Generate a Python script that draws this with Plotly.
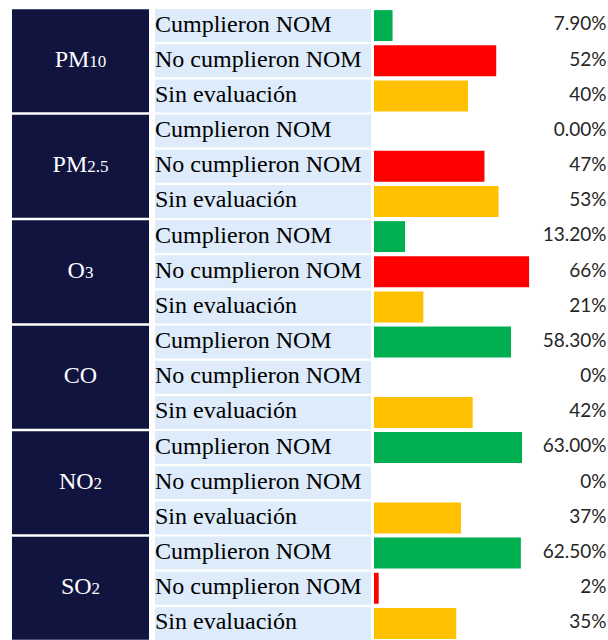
import plotly.graph_objects as go

pollutants = ["PM<span style='font-size:17px'>10</span>",
              "PM<span style='font-size:17px'>2.5</span>",
              "O<span style='font-size:17px'>3</span>",
              "CO",
              "NO<span style='font-size:17px'>2</span>",
              "SO<span style='font-size:17px'>2</span>"]
statuses = ["Cumplieron NOM", "No cumplieron NOM", "Sin evaluación"]
status_colors = ["#00B050", "#FF0000", "#FFC000"]

cumplieron = [7.9, 0.0, 13.2, 58.3, 63.0, 62.5]
no_cumplieron = [52, 47, 66, 0, 0, 2]
sin_evaluacion = [40, 53, 21, 42, 37, 35]

cumplieron_lbl = ["7.90%", "0.00%", "13.20%", "58.30%", "63.00%", "62.50%"]
no_cumplieron_lbl = ["52%", "47%", "66%", "0%", "0%", "2%"]
sin_evaluacion_lbl = ["40%", "53%", "21%", "42%", "37%", "35%"]

# build rows
rows_y, vals, cols, lbls, names = [], [], [], [], []
for b in range(len(pollutants)):
    series = [cumplieron[b], no_cumplieron[b], sin_evaluacion[b]]
    series_l = [cumplieron_lbl[b], no_cumplieron_lbl[b], sin_evaluacion_lbl[b]]
    for r in range(3):
        rows_y.append(b * 3 + r)
        vals.append(series[r])
        cols.append(status_colors[r])
        lbls.append(series_l[r])
        names.append(statuses[r])
block_y = [b * 3 + 1 for b in range(len(pollutants))]

W, H = 608, 640
pitch = 633 / 18
y_top = -0.5 - 8 / pitch
y_bot = y_top + H / pitch

fig = go.Figure()

# dark pollutant cells
fig.add_trace(go.Bar(x=[1] * len(block_y), y=block_y, orientation="h",
                     width=2.93, marker=dict(color="#10143F", line=dict(width=0)),
                     xaxis="x3", yaxis="y", hoverinfo="skip", showlegend=False))
fig.add_trace(go.Scatter(x=[0.5] * len(block_y), y=block_y, mode="text",
                         text=pollutants, textposition="middle center",
                         textfont=dict(family="Liberation Serif", size=24, color="#FFFFFF"),
                         cliponaxis=False,
                         xaxis="x3", yaxis="y", hoverinfo="skip", showlegend=False))

# light blue status cells
fig.add_trace(go.Bar(x=[1] * len(rows_y), y=rows_y, orientation="h",
                     width=0.94, marker=dict(color="#DDEBFB", line=dict(width=0)),
                     xaxis="x2", yaxis="y", hoverinfo="skip", showlegend=False))
fig.add_trace(go.Scatter(x=[0.0] * len(rows_y), y=rows_y, mode="text",
                         text=names, textposition="middle right",
                         textfont=dict(family="Liberation Serif", size=24, color="#000000"),
                         cliponaxis=False,
                         xaxis="x2", yaxis="y", hoverinfo="skip", showlegend=False))

# value bars
fig.add_trace(go.Bar(x=vals, y=rows_y, orientation="h", width=0.88,
                     marker=dict(color=cols, line=dict(width=0)),
                     xaxis="x", yaxis="y", showlegend=False))

x_max = (W - 374) / 2.35
fig.add_trace(go.Scatter(x=[x_max - 0.6] * len(rows_y), y=rows_y, mode="text",
                         text=lbls, textposition="middle left",
                         textfont=dict(family="Lato", size=19, color="#262626"),
                         cliponaxis=False,
                         xaxis="x", yaxis="y", hoverinfo="skip", showlegend=False))

ax_common = dict(showgrid=False, zeroline=False, showticklabels=False, showline=False,
                 fixedrange=True)
fig.update_layout(
    width=W, height=H,
    margin=dict(l=0, r=0, t=0, b=0),
    paper_bgcolor="white", plot_bgcolor="white",
    barmode="overlay",
    xaxis=dict(domain=[374 / W, 1], range=[0, x_max], **ax_common),
    xaxis2=dict(domain=[152 / W, 371 / W], range=[-0.014, 1], anchor="y", **ax_common),
    xaxis3=dict(domain=[12 / W, 149 / W], range=[0, 1], anchor="y", **ax_common),
    yaxis=dict(range=[y_bot, y_top], **ax_common),
)

fig.write_html("out.html",
               config={"displayModeBar": False},
               post_script="document.body.style.margin='0';document.body.style.padding='0';"
                           "document.documentElement.style.overflow='hidden';")
